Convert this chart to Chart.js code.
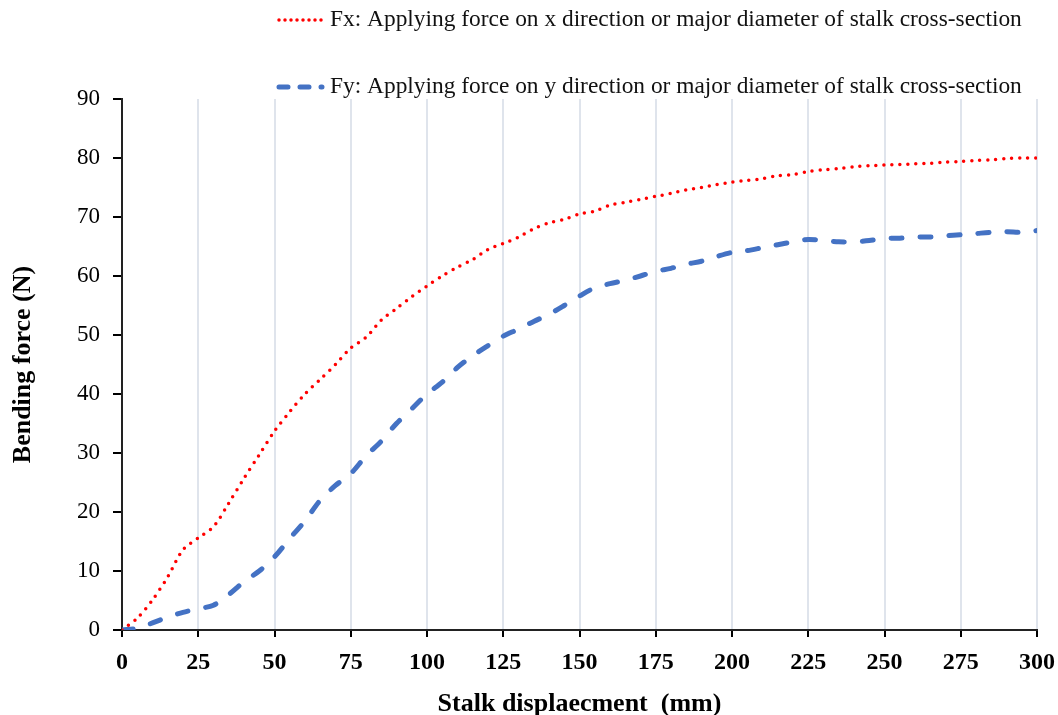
<!DOCTYPE html>
<html>
<head>
<meta charset="utf-8">
<script src="https://cdn.jsdelivr.net/npm/chart.js@4/dist/chart.umd.min.js"></script>
<style>
  html, body { margin: 0; padding: 0; background: #fff; }
  #wrap { width: 1058px; height: 715px; }
</style>
</head>
<body>
<div id="wrap"><canvas id="chart"></canvas></div>
<script>
// displacement (mm)
const displacement = [0, 5, 10, 15, 20, 25, 30, 35, 40, 45, 50, 55, 60, 65, 70, 75, 80, 85, 90, 95,
  100, 105, 110, 115, 120, 125, 130, 135, 140, 145, 150, 155, 160, 165, 170, 175, 180, 185, 190, 195,
  200, 205, 210, 215, 220, 225, 230, 235, 240, 245, 250, 255, 260, 265, 270, 275, 280, 285, 290, 295, 300];

// Fx bending force (N)
const fx = [0, 2, 5.1, 9, 13.6, 15.6, 17.5, 21.5, 25.7, 29.7, 33.7, 37, 40, 42.5, 45, 47.8, 49.6, 52.5, 54.5, 56.5,
  58.3, 60, 61.5, 62.8, 64.5, 65.5, 66.6, 68, 69, 69.6, 70.5, 71, 72, 72.5, 73, 73.5, 74, 74.6, 75, 75.5,
  75.9, 76.2, 76.5, 77, 77.2, 77.7, 78, 78.2, 78.5, 78.7, 78.8, 78.9, 79, 79.1, 79.3, 79.4, 79.6, 79.7, 79.9, 80, 80];

// Fy bending force (N)
const fy = [0, 0.3, 1.2, 2.2, 3, 3.6, 4.2, 6, 8.2, 10, 12.4, 15.5, 18.5, 22, 24.5, 26.5, 29.5, 32, 35, 37.5,
  40, 42, 44.5, 46.5, 48.2, 49.8, 51, 52.3, 53.5, 55, 56.6, 58, 58.7, 59.3, 60, 60.8, 61.3, 62, 62.5, 63.3,
  64, 64.3, 64.8, 65.3, 65.8, 66.2, 66, 65.8, 65.8, 66, 66.4, 66.4, 66.6, 66.6, 66.8, 67, 67.2, 67.4, 67.5, 67.4, 67.7];

const legendText = [
  'Fx: Applying force on x direction or major diameter of stalk cross-section',
  'Fy: Applying force on y direction or major diameter of stalk cross-section'
];

const serif = '"Liberation Serif", "Times New Roman", serif';

// legend drawn by hand: two right-hand rows with line samples
const lineLegend = {
  id: 'lineLegend',
  afterDraw(chart) {
    const ctx = chart.ctx;
    const rows = [20, 87];
    chart.data.datasets.forEach((ds, i) => {
      const y = rows[i];
      ctx.save();
      ctx.strokeStyle = ds.borderColor;
      ctx.lineWidth = ds.borderWidth;
      ctx.lineCap = ds.borderCapStyle;
      ctx.setLineDash(i === 0 ? [0, 6] : [9, 12]);
      ctx.beginPath();
      ctx.moveTo(279, y);
      ctx.lineTo(322, y);
      ctx.stroke();
      ctx.setLineDash([]);
      ctx.fillStyle = '#111';
      ctx.font = '23.4px ' + serif;
      ctx.textBaseline = 'middle';
      ctx.fillText(ds.label, 330, y);
      ctx.restore();
    });
  }
};

new Chart(document.getElementById('chart'), {
  type: 'line',
  data: {
    datasets: [
      {
        label: legendText[0],
        data: displacement.map((x, i) => ({ x, y: fx[i] })),
        borderColor: '#ff0000',
        borderWidth: 3.5,
        borderDash: [0, 8],
        borderCapStyle: 'round',
        pointRadius: 0,
        tension: 0.3
      },
      {
        label: legendText[1],
        data: displacement.map((x, i) => ({ x, y: fy[i] })),
        borderColor: '#4472c4',
        borderWidth: 5,
        borderDash: [11, 18],
        borderCapStyle: 'round',
        pointRadius: 0,
        tension: 0.3
      }
    ]
  },
  options: {
    responsive: true,
    maintainAspectRatio: false,
    animation: false,
    layout: { padding: { top: 99, right: 0, left: 10, bottom: 0 } },
    plugins: {
      legend: { display: false },
      tooltip: { enabled: false }
    },
    scales: {
      x: {
        type: 'linear',
        min: 0,
        max: 300,
        afterFit: (scale) => { scale.paddingRight = 21; },
        ticks: { stepSize: 25, color: '#000', font: { family: serif, size: 24, weight: 'bold' }, padding: 11 },
        grid: { color: '#dfe4ec', lineWidth: 2, tickColor: '#000', tickLength: 7 },
        border: { color: '#222', width: 2 },
        title: {
          display: true,
          text: 'Stalk displaecment  (mm)',
          color: '#000',
          font: { family: serif, size: 26, weight: 'bold', lineHeight: 0.7 },
          padding: { top: 7, bottom: 2 }
        }
      },
      y: {
        min: 0,
        max: 90,
        ticks: { stepSize: 10, color: '#000', font: { family: serif, size: 23 }, padding: 13 },
        grid: { drawOnChartArea: false, tickColor: '#000', tickLength: 9, lineWidth: 2 },
        border: { color: '#222', width: 2 },
        title: {
          display: true,
          text: 'Bending force (N)',
          color: '#000',
          font: { family: serif, size: 26, weight: 'bold', lineHeight: 1 },
          padding: { top: 0, bottom: 28 }
        }
      }
    }
  },
  plugins: [lineLegend]
});
</script>
</body>
</html>
